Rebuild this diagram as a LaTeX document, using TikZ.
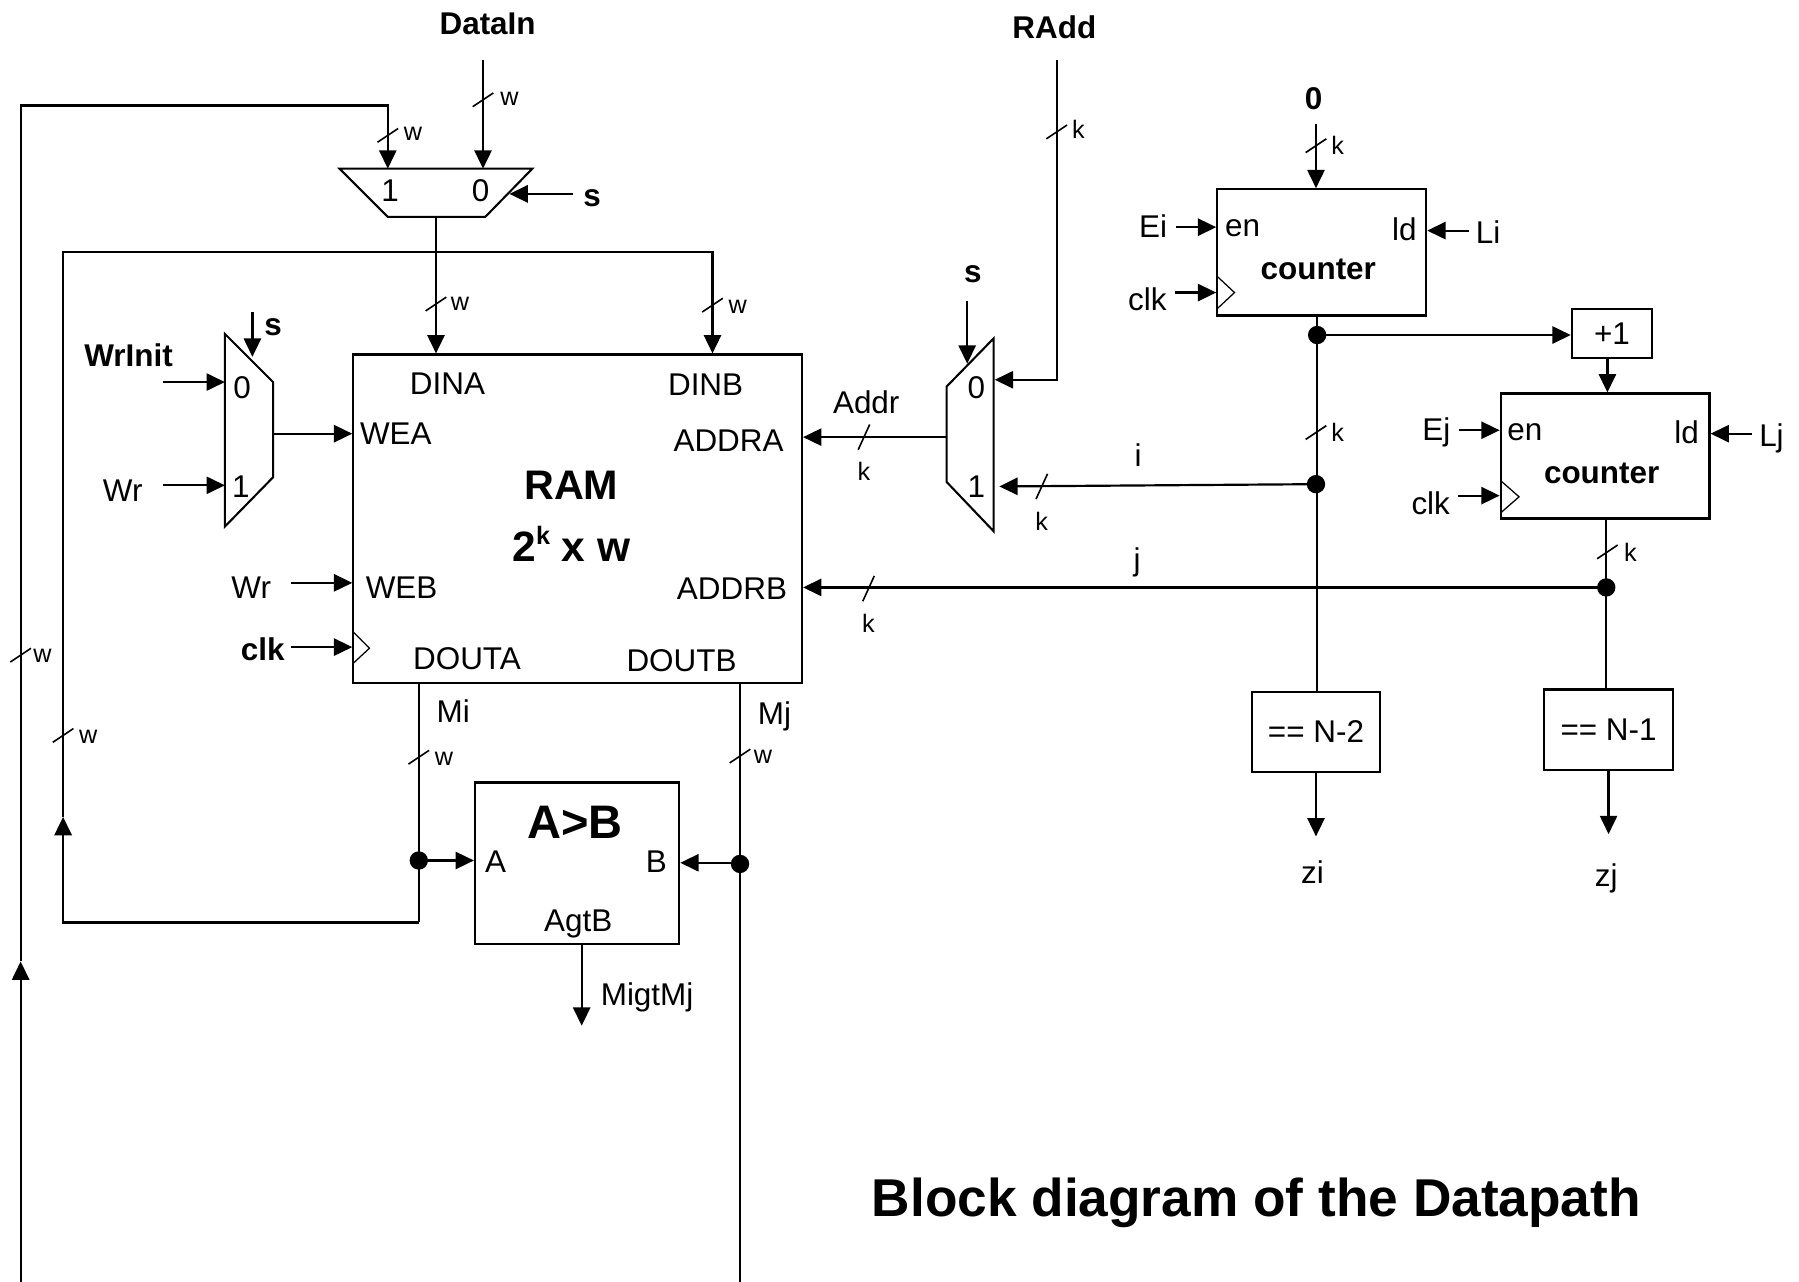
\documentclass[tikz,border=0pt]{standalone}
\usepackage{fontspec}
\setmainfont{Liberation Sans}
\usetikzlibrary{arrows.meta}
\tikzset{
  wire/.style={line width=0.95pt,line join=miter},
  arr/.style={wire,-{Triangle[length=8pt,width=7.5pt]}},
  blk/.style={draw,line width=0.95pt,inner sep=0pt,fill=none},
  mux/.style={draw,line width=0.9pt,line join=miter},
  clockmark/.style={draw,line width=0.55pt},
  dot/.style={circle,fill=black,inner sep=0pt,minimum size=8pt},
  lbl/.style={inner sep=0pt,font=\fontsize{13.7pt}{15pt}\selectfont},
  bl/.style={inner sep=0pt,font=\fontsize{13.7pt}{15pt}\selectfont\bfseries},
  sm/.style={inner sep=0pt,font=\fontsize{11pt}{13pt}\selectfont},
  buslash/.style={line width=0.7pt},
}
\newcommand{\vslash}[2]{\draw[buslash] (#1-9,#2+6) -- (#1+9,#2-6);}
\newcommand{\hslash}[2]{\draw[buslash] (#1-5,#2+11) -- (#1+5,#2-11);}
\begin{document}
\begin{tikzpicture}[x=0.5pt,y=-0.5pt]
\useasboundingbox (0,0) rectangle (1568,1117);
% blocks
\node[blk,minimum width=195.5pt,minimum height=143pt] (ram) at (503.5,452) {};
\node[blk,minimum width=91pt,minimum height=55pt] (cnti) at (1152,220) {};
\node[blk,minimum width=91pt,minimum height=54.5pt] (cntj) at (1399,397.5) {};
\node[blk,minimum width=35pt,minimum height=21.5pt] (inc) at (1405,290.5) {\fontsize{13.7pt}{15pt}\selectfont +1};
\node[blk,minimum width=56pt,minimum height=35pt] (eqi) at (1147,638) {\fontsize{13.7pt}{15pt}\selectfont == N-2};
\node[blk,minimum width=56pt,minimum height=35pt] (eqj) at (1402,636) {\fontsize{13.7pt}{15pt}\selectfont == N-1};
\node[blk,minimum width=89pt,minimum height=70.5pt] (cmp) at (503,752.5) {};
% muxes
\draw[mux] (296,147) -- (464,147) -- (423,189) -- (338,189) -- cycle;
\draw[mux] (196,291) -- (238,333) -- (238,416) -- (196,459) -- cycle;
\draw[mux] (866,295) -- (866,463) -- (825,420) -- (825,337) -- cycle;
% clock marks
\draw[clockmark] (308,551) -- (322,565) -- (308,578);
\draw[clockmark] (1061,241) -- (1076,255) -- (1061,269);
\draw[clockmark] (1308,419) -- (1324,433) -- (1308,447);
% coordinates
\coordinate (fbA) at (18,1117); \coordinate (fbAmid) at (18,838);
\coordinate (fbAtop) at (18,92); \coordinate (tmIn1) at (338,92);
\coordinate (tmPin1) at (338,147);
\coordinate (diTop) at (421,52); \coordinate (tmPin0) at (421,147);
\coordinate (tmS) at (499,169); \coordinate (tmSp) at (444,169);
\coordinate (tmOut) at (380,189);
\coordinate (fbBb) at (55,804); \coordinate (fbBmid) at (55,712);
\coordinate (fbBt) at (55,220); \coordinate (dinbT) at (621,220);
\coordinate (lmSt) at (220,272); \coordinate (lmSe) at (220,311);
\coordinate (wiS) at (142,333); \coordinate (wiE) at (196,333);
\coordinate (wrS) at (142,423); \coordinate (wrE) at (196,423);
\coordinate (lmOut) at (238,378);
\coordinate (webS) at (254,508); \coordinate (clkS) at (254,564);
\coordinate (rmSt) at (843,262); \coordinate (rmSe) at (843,317);
\coordinate (raT) at (921,52); \coordinate (raC) at (921,331); \coordinate (rmP0) at (867,331);
\coordinate (rmOut) at (825,381); \coordinate (rmP1) at (871,424);
\coordinate (zeroT) at (1147,108);
\coordinate (eiS) at (1025,198); \coordinate (liS) at (1280,201); \coordinate (ckiS) at (1024,255);
\coordinate (ejS) at (1272,375); \coordinate (ljS) at (1527,378); \coordinate (ckjS) at (1271,432);
\coordinate (ziE) at (1147,729); \coordinate (zjE) at (1402,727);
\coordinate (miB) at (365,804); \coordinate (mjT) at (645,595); \coordinate (mjB) at (645,1117);
\coordinate (miT) at (365,595);
\coordinate (cmpOutT) at (507,823); \coordinate (cmpOutE) at (507,894);
\coordinate (incO) at (1401,312); \coordinate (dmjO) at (645,752);
% dots
\node[dot] (dcnt) at (1148,292) {};
\node[dot] (di) at (1147,422) {};
\node[dot] (dj) at (1400,512) {};
\node[dot] (dmi) at (365,750) {};
\node[dot] (dmj) at (645,753) {};
% connectors
\draw[arr] (fbA) -- (fbAmid);
\draw[arr] (fbAmid) -- (fbAtop) -- (tmIn1) -- (tmPin1);
\draw[arr] (diTop) -- (tmPin0);
\draw[arr] (tmS) -- (tmSp);
\draw[arr] (tmOut) -- (tmOut |- ram.north);
\draw[arr] (miB) -- (fbBb) -- (fbBmid);
\draw[arr] (fbBmid) -- (fbBt) -- (dinbT) -- (dinbT |- ram.north);
\draw[arr] (lmSt) -- (lmSe);
\draw[arr] (wiS) -- (wiE);
\draw[arr] (wrS) -- (wrE);
\draw[arr] (lmOut) -- (lmOut -| ram.west);
\draw[arr] (webS) -- (webS -| ram.west);
\draw[arr] (clkS) -- (clkS -| ram.west);
\draw[arr] (rmSt) -- (rmSe);
\draw[arr] (raT) -- (raC) -- (rmP0);
\draw[arr] (rmOut) -- (rmOut -| ram.east);
\draw[arr] (di.center) -- (rmP1);
\draw[arr] (dj.center) -- (dj.center -| ram.east);
\draw[arr] (zeroT) -- (zeroT |- cnti.north);
\draw[arr] (eiS) -- (eiS -| cnti.west);
\draw[arr] (liS) -- (liS -| cnti.east);
\draw[arr] (ckiS) -- (ckiS -| cnti.west);
\draw[arr] (ejS) -- (ejS -| cntj.west);
\draw[arr] (ljS) -- (ljS -| cntj.east);
\draw[arr] (ckjS) -- (ckjS -| cntj.west);
\draw[wire] (dcnt.center |- cnti.south) -- (dcnt.center |- eqi.north);
\draw[arr] (dcnt.center) -- (dcnt.center -| inc.west);
\draw[arr] (incO) -- (incO |- cntj.north);
\draw[wire] (dj.center |- cntj.south) -- (dj.center |- eqj.north);
\draw[arr] (eqi.south) -- (ziE);
\draw[arr] (eqj.south) -- (zjE);
\draw[wire] (miT) -- (miB);
\draw[arr] (dmi.center) -- (dmi.center -| cmp.west);
\draw[wire] (mjT) -- (mjB);
\draw[arr] (dmjO) -- (dmjO -| cmp.east);
\draw[arr] (cmpOutT) -- (cmpOutE);
% bus slashes
\vslash{421}{87} \vslash{338}{118} \vslash{380}{265} \vslash{621}{266}
\vslash{18}{571} \vslash{55}{641} \vslash{365}{660} \vslash{645}{659}
\vslash{921}{115} \vslash{1147}{127} \vslash{1147}{377} \vslash{1401}{481}
\hslash{753}{381} \hslash{908}{424} \hslash{757}{513}
% small labels
\node[sm] (w1) at (444,86) {w};
\node[sm] (w2) at (360,117) {w};
\node[sm] (w3) at (401,265) {w};
\node[sm] (w4) at (643,267) {w};
\node[sm] (w5) at (37,572) {w};
\node[sm] (w6) at (77,642) {w};
\node[sm] (w7) at (387,661) {w};
\node[sm] (w8) at (665,660) {w};
\node[sm] (k1) at (940,113) {k};
\node[sm] (k2) at (1166,127) {k};
\node[sm] (k3) at (1166,377) {k};
\node[sm] (k4) at (1421,481) {k};
\node[sm] (k5) at (753,411) {k};
\node[sm] (k6) at (908,454) {k};
\node[sm] (k7) at (757,543) {k};
% labels
\node[bl] (tDataIn) at (425,21) {DataIn};
\node[bl] (tRAdd) at (919,24) {RAdd};
\node[bl] (tZero) at (1145,86) {0};
\node[bl] (tS1) at (516,173) {s};
\node[bl] (tS2) at (238,285) {s};
\node[bl] (tS3) at (848,239) {s};
\node[bl] (tWrInit) at (112,310) {WrInit};
\node[bl] (tClk) at (229,566) {clk};
\node[lbl] (m1a) at (340,166) {1};
\node[lbl] (m1b) at (419,166) {0};
\node[lbl] (m2a) at (211,338) {0};
\node[lbl] (m2b) at (210,424) {1};
\node[lbl] (m3a) at (851,338) {0};
\node[lbl] (m3b) at (851,424) {1};
\node[lbl] (tWr1) at (107,428) {Wr};
\node[lbl] (tWr2) at (219,512) {Wr};
\node[lbl] (tDINA) at (390,334) {DINA};
\node[lbl] (tDINB) at (615,335) {DINB};
\node[lbl] (tWEA) at (345,378) {WEA};
\node[lbl] (tADDRA) at (635,384) {ADDRA};
\node[lbl] (tWEB) at (350,512) {WEB};
\node[lbl] (tADDRB) at (638,513) {ADDRB};
\node[lbl] (tDOUTA) at (407,574) {DOUTA};
\node[lbl] (tDOUTB) at (594,576) {DOUTB};
\node[inner sep=0pt,font=\fontsize{18pt}{20pt}\selectfont\bfseries] (tRAM) at (498,423) {RAM};
\node[inner sep=0pt,font=\fontsize{18.5pt}{20pt}\selectfont\bfseries] (tSize) at (498,474) {2\raisebox{0.4em}{\fontsize{11pt}{12pt}\selectfont k} x w};
\node[lbl] (tAddr) at (755,351) {Addr};
\node[lbl] (ti) at (992,397) {i};
\node[lbl] (tj) at (991,490) {j};
\node[lbl] (tEi) at (1005,197) {Ei};
\node[lbl] (tLi) at (1297,202) {Li};
\node[lbl] (tclki) at (1000,261) {clk};
\node[lbl] (ten1) at (1083,199) {en};
\node[lbl] (tld1) at (1224,200) {ld};
\node[bl] (tcnt1) at (1149,235) {counter};
\node[lbl] (tEj) at (1252,377) {Ej};
\node[lbl] (tLj) at (1544,382) {Lj};
\node[lbl] (tclkj) at (1247,439) {clk};
\node[lbl] (ten2) at (1329,377) {en};
\node[lbl] (tld2) at (1470,377) {ld};
\node[bl] (tcnt2) at (1396,413) {counter};
\node[lbl] (tzi) at (1144,760) {zi};
\node[lbl] (tzj) at (1400,766) {zj};
\node[lbl] (tMi) at (395,620) {Mi};
\node[lbl] (tMj) at (675,624) {Mj};
\node[inner sep=0pt,font=\fontsize{20.5pt}{22pt}\selectfont\bfseries] (tAB) at (501,717) {A>B};
\node[lbl] (tA) at (432,751) {A};
\node[lbl] (tB) at (572,751) {B};
\node[lbl] (tAgtB) at (504,805) {AgtB};
\node[lbl] (tMigt) at (564,869) {MigtMj};
\node[inner sep=0pt,font=\fontsize{23.2pt}{25pt}\selectfont\bfseries] (tTitle) at (1095,1048) {Block diagram of the Datapath};
\end{tikzpicture}
\end{document}
